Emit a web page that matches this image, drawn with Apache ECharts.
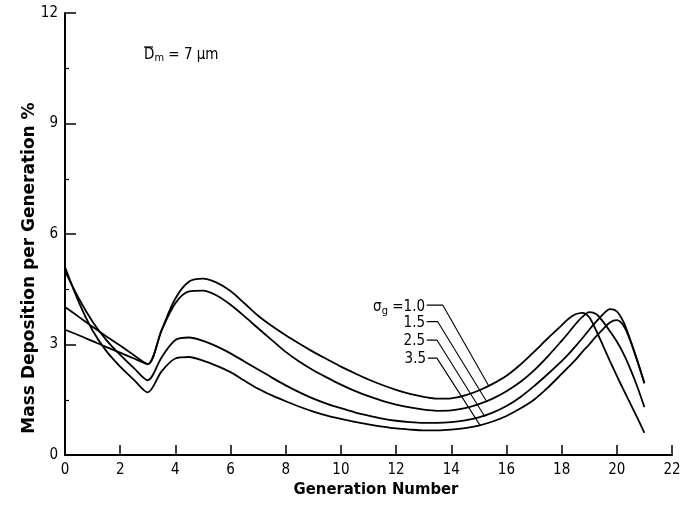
<!DOCTYPE html>
<html><head><meta charset="utf-8">
<script src="https://cdn.jsdelivr.net/npm/echarts@6/dist/echarts.min.js"></script>
<style>html,body{margin:0;padding:0;background:#fff}#c{width:697px;height:508px}</style>
</head><body><div id="c"></div>
<script>
// Generation numbers at which curves are sampled
const generations = [0,0.5,1,1.5,2,2.5,3,3.5,4,4.5,5,5.5,6,6.5,7,7.5,8,8.5,9,9.5,10,10.5,11,11.5,12,12.5,13,13.5,14,14.5,15,15.5,16,16.5,17,17.5,18,18.25,18.5,18.75,19,19.25,19.5,19.75,20,20.25,20.5,20.75,21];
// Mass deposition per generation (%) for each geometric standard deviation
const sigma10 = [3.40,3.25,3.09,2.93,2.78,2.62,2.47,3.39,4.25,4.71,4.79,4.68,4.45,4.12,3.78,3.50,3.25,3.02,2.80,2.60,2.40,2.22,2.05,1.90,1.77,1.66,1.58,1.53,1.54,1.62,1.75,1.93,2.15,2.45,2.80,3.17,3.52,3.70,3.82,3.86,3.74,3.38,2.97,2.55,2.15,1.76,1.38,1.00,0.60];
const sigma15 = [4.02,3.75,3.48,3.22,2.97,2.71,2.47,3.38,4.12,4.44,4.46,4.33,4.08,3.77,3.44,3.12,2.80,2.53,2.30,2.10,1.91,1.74,1.60,1.47,1.37,1.29,1.23,1.20,1.21,1.27,1.38,1.53,1.73,1.98,2.30,2.68,3.10,3.32,3.55,3.75,3.88,3.83,3.62,3.36,3.08,2.74,2.32,1.84,1.30];
const sigma25 = [5.00,4.25,3.62,3.12,2.72,2.36,2.03,2.65,3.12,3.19,3.10,2.95,2.76,2.54,2.32,2.10,1.89,1.70,1.53,1.39,1.27,1.16,1.07,0.99,0.93,0.89,0.87,0.87,0.89,0.94,1.02,1.15,1.33,1.57,1.87,2.20,2.55,2.74,2.95,3.17,3.40,3.62,3.82,3.96,3.90,3.60,3.10,2.55,1.95];
const sigma35 = [5.10,4.15,3.38,2.82,2.40,2.04,1.70,2.27,2.62,2.66,2.56,2.42,2.25,2.02,1.80,1.62,1.46,1.31,1.18,1.07,0.98,0.90,0.83,0.77,0.72,0.69,0.67,0.67,0.69,0.73,0.80,0.91,1.06,1.26,1.50,1.83,2.20,2.39,2.58,2.80,3.00,3.22,3.42,3.60,3.66,3.50,3.08,2.53,1.95];
const seriesNames = ['1.0','1.5','2.5','3.5'];
// Leader lines from labels to curves (data coordinates)
const leader10 = [[13.11,4.07],[13.69,4.07],[15.34,1.90]];
const leader15 = [[13.11,3.62],[13.51,3.62],[15.26,1.48]];
const leader25 = [[13.11,3.12],[13.48,3.12],[15.22,1.04]];
const leader35 = [[13.15,2.63],[13.48,2.63],[15.04,0.81]];
const xTickLabels = [0,2,4,6,8,10,12,14,16,18,20,22];
const yTickLabels = [0,3,6,9,12];

const FONT = "'Liberation Sans Narrow','DejaVu Sans Condensed','Liberation Sans',sans-serif";
const chart = echarts.init(document.getElementById('c'), null, {renderer:'canvas'});
const curves = [sigma10, sigma15, sigma25, sigma35];
const leaders = [leader10, leader15, leader25, leader35];
const series = [];
curves.forEach((vals, k) => {
  series.push({
    name: seriesNames[k], type: 'line', smooth: 0.3, symbol: 'none',
    data: generations.map((g, i) => [g, vals[i]]),
    lineStyle: {color: '#000', width: 1.8}, animation: false
  });
});
leaders.forEach((pts, k) => {
  series.push({
    name: 'leader' + k, type: 'line', smooth: false, symbol: 'none',
    data: pts, lineStyle: {color: '#000', width: 1.1}, animation: false, z: 3
  });
});
chart.setOption({
  backgroundColor: '#fff',
  animation: false,
  grid: {left: 65, right: 25, top: 13, bottom: 53},
  xAxis: {
    type: 'value', min: 0, max: 22, interval: 2,
    axisLine: {show: true, lineStyle: {color: '#000', width: 2}},
    axisTick: {show: true, inside: true, length: 10, lineStyle: {color: '#000', width: 1.5}},
    axisLabel: {color: '#000', fontFamily: FONT, fontSize: 15, margin: 8,
      formatter: v => xTickLabels.includes(v) ? String(v) : ''},
    splitLine: {show: false}
  },
  yAxis: {
    type: 'value', min: 0, max: 12, interval: 3,
    axisLine: {show: true, lineStyle: {color: '#000', width: 2}},
    axisTick: {show: true, inside: true, length: 11, lineStyle: {color: '#000', width: 1.5}},
    minorTick: {show: true, splitNumber: 2, length: 4, lineStyle: {color: '#000', width: 1.2}},
    axisLabel: {color: '#000', fontFamily: FONT, fontSize: 15, margin: 7,
      formatter: v => yTickLabels.includes(v) ? String(v) : ''},
    splitLine: {show: false}
  },
  series: series,
  graphic: [
    {type: 'text', x: 30, y: 268, rotation: Math.PI / 2,
      style: {text: 'Mass Deposition per Generation %', align: 'center', verticalAlign: 'middle',
        font: "bold 17px 'DejaVu Sans',sans-serif", fill: '#000'}},
    {type: 'text', x: 376, y: 490,
      style: {text: 'Generation Number', align: 'center', verticalAlign: 'middle',
        font: "bold 16.5px 'DejaVu Sans Condensed','DejaVu Sans',sans-serif", fill: '#000'}},
    {type: 'text', x: 144, y: 47,
      style: {text: '{d|D}{m|m}{t| = 7 µm}', font: "15px " + FONT, fill: '#000',
        rich: {d: {fontFamily: FONT, fontSize: 15, fill: '#000'},
               m: {fontFamily: FONT, fontSize: 11, fill: '#000', verticalAlign: 'bottom', padding: [6, 0, 0, 0]},
               t: {fontFamily: FONT, fontSize: 15, fill: '#000'}}}},
    {type: 'line', shape: {x1: 144, y1: 47, x2: 153, y2: 47}, style: {stroke: '#000', lineWidth: 1.2}},
    {type: 'text', x: 425, y: 307,
      style: {text: '{s|σ}{g|g}{t| =' + seriesNames[0] + '}', align: 'right', verticalAlign: 'middle', font: "15px " + FONT, fill: '#000',
        rich: {s: {fontFamily: FONT, fontSize: 15, fill: '#000'},
               g: {fontFamily: FONT, fontSize: 11, fill: '#000', padding: [8, 0, 0, 0]},
               t: {fontFamily: FONT, fontSize: 15, fill: '#000'}}}},
    {type: 'text', x: 425, y: 323.5, style: {text: seriesNames[1], align: 'right', verticalAlign: 'middle', font: "15px " + FONT, fill: '#000'}},
    {type: 'text', x: 425, y: 341, style: {text: seriesNames[2], align: 'right', verticalAlign: 'middle', font: "15px " + FONT, fill: '#000'}},
    {type: 'text', x: 426, y: 359, style: {text: seriesNames[3], align: 'right', verticalAlign: 'middle', font: "15px " + FONT, fill: '#000'}}
  ]
});
</script></body></html>
